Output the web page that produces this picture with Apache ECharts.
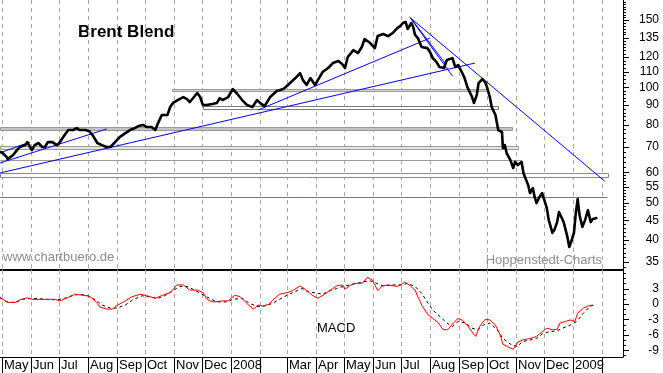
<!DOCTYPE html>
<html><head><meta charset="utf-8">
<script src="https://cdn.jsdelivr.net/npm/echarts@6/dist/echarts.min.js"></script>
<style>html,body{margin:0;padding:0;background:#fff}#c{width:663px;height:373px}</style>
</head><body><div id="c"></div>
<script>
// ---------- DATA ----------
const priceDates = ['2007-04-29','2007-05-02','2007-05-06','2007-05-07','2007-05-13','2007-05-17','2007-05-20','2007-05-26','2007-05-28','2007-05-31','2007-06-02','2007-06-05','2007-06-09','2007-06-13','2007-06-16','2007-06-19','2007-06-24','2007-06-29','2007-07-02','2007-07-07','2007-07-11','2007-07-16','2007-07-20','2007-07-23','2007-07-29','2007-08-02','2007-08-06','2007-08-11','2007-08-16','2007-08-21','2007-08-25','2007-08-30','2007-09-04','2007-09-10','2007-09-15','2007-09-20','2007-09-24','2007-09-29','2007-10-03','2007-10-08','2007-10-12','2007-10-15','2007-10-19','2007-10-25','2007-10-28','2007-10-31','2007-11-05','2007-11-11','2007-11-15','2007-11-18','2007-11-26','2007-11-29','2007-12-02','2007-12-06','2007-12-12','2007-12-17','2007-12-20','2007-12-23','2007-12-29','2008-01-03','2008-01-07','2008-01-13','2008-01-18','2008-01-24','2008-01-29','2008-02-01','2008-02-06','2008-02-12','2008-02-19','2008-02-26','2008-03-02','2008-03-10','2008-03-15','2008-03-18','2008-03-22','2008-03-26','2008-03-31','2008-04-03','2008-04-08','2008-04-14','2008-04-19','2008-04-25','2008-04-29','2008-05-02','2008-05-05','2008-05-11','2008-05-16','2008-05-20','2008-05-23','2008-05-29','2008-06-03','2008-06-06','2008-06-12','2008-06-17','2008-06-22','2008-06-27','2008-06-30','2008-07-03','2008-07-06','2008-07-08','2008-07-12','2008-07-14','2008-07-16','2008-07-19','2008-07-23','2008-07-29','2008-08-01','2008-08-04','2008-08-08','2008-08-11','2008-08-16','2008-08-19','2008-08-25','2008-08-28','2008-08-31','2008-09-04','2008-09-07','2008-09-10','2008-09-15','2008-09-17','2008-09-20','2008-09-22','2008-09-26','2008-09-29','2008-10-01','2008-10-04','2008-10-06','2008-10-10','2008-10-12','2008-10-13','2008-10-17','2008-10-18','2008-10-20','2008-10-22','2008-10-26','2008-10-29','2008-10-31','2008-11-03','2008-11-07','2008-11-09','2008-11-11','2008-11-14','2008-11-16','2008-11-19','2008-11-21','2008-11-23','2008-11-26','2008-11-29','2008-12-01','2008-12-04','2008-12-06','2008-12-10','2008-12-12','2008-12-15','2008-12-17','2008-12-20','2008-12-22','2008-12-26','2008-12-28','2008-12-31','2009-01-02','2009-01-04','2009-01-06','2009-01-08','2009-01-11','2009-01-14','2009-01-17','2009-01-20','2009-01-22','2009-01-26'];
const priceValues = [67.8,67.4,65.8,65.0,66.6,68.6,69.9,70.7,72.0,69.9,68.6,70.7,71.6,69.9,69.9,72.0,72.0,70.7,72.0,75.1,77.4,77.4,78.3,77.4,77.4,77.0,75.1,71.6,70.7,69.9,69.9,72.0,74.2,76.0,77.4,78.3,79.3,79.8,78.8,78.8,77.4,80.7,84.7,84.7,88.9,91.1,92.7,94.4,93.2,91.6,96.7,94.4,90.0,90.0,90.5,91.1,93.8,92.7,94.4,99.0,96.7,92.7,90.0,88.9,92.7,91.1,89.4,94.4,97.9,99.0,101.5,105.8,109.0,104.5,101.5,105.8,101.5,104.5,109.7,112.4,115.8,117.2,115.1,112.4,120.1,125.2,123.0,127.5,133.8,130.6,126.7,136.2,137.9,136.2,138.7,142.9,144.6,147.3,148.2,142.1,147.3,143.8,137.1,134.6,127.5,126.7,123.7,119.3,116.5,113.1,112.4,117.9,119.3,113.1,114.4,109.7,105.8,100.2,94.4,91.1,95.5,102.7,105.2,103.3,100.2,94.4,88.9,84.7,83.7,77.4,76.5,69.5,70.7,67.4,64.6,61.6,63.9,62.7,63.9,59.8,58.0,55.6,53.0,54.6,51.7,49.9,51.7,53.0,52.4,48.4,45.1,41.7,42.4,44.5,47.3,45.6,44.5,40.7,38.3,40.2,41.7,47.0,51.1,46.4,43.2,45.1,47.8,44.5,45.3,45.6];

const macdDates = ['2007-04-29','2007-05-02','2007-05-07','2007-05-15','2007-05-20','2007-05-28','2007-06-02','2007-06-14','2007-06-27','2007-07-02','2007-07-10','2007-07-18','2007-07-26','2007-07-31','2007-08-05','2007-08-11','2007-08-14','2007-08-21','2007-08-27','2007-09-02','2007-09-10','2007-09-17','2007-09-26','2007-10-03','2007-10-12','2007-10-20','2007-10-28','2007-11-04','2007-11-11','2007-11-18','2007-11-26','2007-12-02','2007-12-07','2007-12-13','2007-12-23','2007-12-29','2008-01-05','2008-01-11','2008-01-18','2008-01-25','2008-01-30','2008-02-04','2008-02-10','2008-02-15','2008-02-22','2008-03-01','2008-03-07','2008-03-15','2008-03-20','2008-03-28','2008-04-03','2008-04-10','2008-04-16','2008-04-23','2008-04-29','2008-05-02','2008-05-07','2008-05-11','2008-05-18','2008-05-21','2008-05-26','2008-05-31','2008-06-03','2008-06-06','2008-06-11','2008-06-17','2008-06-27','2008-07-02','2008-07-05','2008-07-11','2008-07-16','2008-07-19','2008-07-24','2008-07-30','2008-08-04','2008-08-10','2008-08-15','2008-08-20','2008-08-26','2008-08-31','2008-09-05','2008-09-11','2008-09-16','2008-09-19','2008-09-23','2008-09-29','2008-10-04','2008-10-10','2008-10-15','2008-10-18','2008-10-23','2008-10-29','2008-11-03','2008-11-08','2008-11-16','2008-11-23','2008-11-29','2008-12-04','2008-12-10','2008-12-15','2008-12-18','2008-12-24','2008-12-29','2009-01-03','2009-01-06','2009-01-12','2009-01-17','2009-01-22'];
const macdValues = [1.1,0.9,0.3,0.3,0.8,1.2,0.9,0.9,0.9,0.6,1.2,1.9,1.7,1.6,1.2,0.1,-0.6,-1.0,-1.0,-0.2,0.6,1.4,1.9,1.6,1.1,1.7,2.2,3.7,3.7,2.7,2.7,2.2,0.8,0.4,0.6,0.6,1.7,1.4,0.1,-1.0,-0.2,-0.4,-0.1,0.8,1.9,2.2,2.6,3.5,2.9,1.7,1.1,1.9,2.6,3.5,3.7,2.9,3.5,4.0,4.0,4.1,5.2,4.7,3.7,2.6,3.5,3.7,3.4,3.9,4.3,3.5,2.7,1.4,-0.5,-2.1,-2.8,-3.7,-5.0,-5.0,-3.7,-2.8,-3.2,-4.4,-5.7,-6.3,-4.4,-3.0,-3.1,-4.1,-6.0,-7.8,-8.3,-8.8,-7.4,-7.0,-6.7,-6.3,-5.4,-4.7,-5.0,-4.9,-3.7,-3.4,-3.1,-3.4,-1.8,-0.8,-0.4,-0.2];

const signalDates = ['2007-04-29','2007-05-04','2007-05-10','2007-05-17','2007-05-23','2007-06-02','2007-06-18','2007-06-29','2007-07-07','2007-07-15','2007-07-23','2007-08-01','2007-08-09','2007-08-16','2007-08-25','2007-09-01','2007-09-10','2007-09-18','2007-09-28','2007-10-09','2007-10-15','2007-10-22','2007-10-31','2007-11-07','2007-11-15','2007-11-21','2007-12-01','2007-12-07','2007-12-17','2007-12-28','2008-01-03','2008-01-13','2008-01-21','2008-01-29','2008-02-06','2008-02-14','2008-02-22','2008-03-01','2008-03-07','2008-03-17','2008-03-23','2008-04-02','2008-04-08','2008-04-16','2008-04-23','2008-04-30','2008-05-07','2008-05-15','2008-05-21','2008-05-29','2008-06-05','2008-06-12','2008-06-22','2008-07-02','2008-07-08','2008-07-16','2008-07-23','2008-07-29','2008-08-04','2008-08-12','2008-08-19','2008-08-25','2008-08-31','2008-09-08','2008-09-15','2008-09-21','2008-09-27','2008-10-04','2008-10-12','2008-10-18','2008-10-26','2008-11-02','2008-11-08','2008-11-16','2008-11-23','2008-11-30','2008-12-07','2008-12-15','2008-12-21','2008-12-29','2009-01-05','2009-01-12','2009-01-19','2009-01-23'];
const signalValues = [1.3,0.6,0.3,0.4,0.9,1.1,0.9,0.8,1.1,1.6,1.9,1.6,0.8,-0.2,-0.8,-0.8,-0.2,0.8,1.6,1.3,1.1,1.6,2.6,3.4,3.4,2.9,1.9,1.3,0.4,0.4,0.9,1.1,0.1,-0.5,-0.4,0.1,0.9,1.7,2.2,3.0,2.4,2.1,1.9,2.6,3.0,3.4,3.7,4.0,4.3,4.5,4.0,3.5,3.7,3.7,4.0,3.4,2.1,0.4,-1.2,-2.5,-3.7,-4.4,-3.4,-3.7,-4.7,-5.0,-4.1,-3.7,-5.0,-6.7,-7.8,-8.3,-7.3,-7.0,-6.7,-5.7,-5.4,-5.2,-4.7,-4.1,-3.4,-1.8,-0.5,-0.2];

const monthStarts = ['2007-05-01','2007-06-01','2007-07-01','2007-08-01','2007-09-01','2007-10-01','2007-11-01','2007-12-01','2008-01-01','2008-02-01','2008-03-01','2008-04-01','2008-05-01','2008-06-01','2008-07-01','2008-08-01','2008-09-01','2008-10-01','2008-11-01','2008-12-01','2009-01-01','2009-02-01'];
const monthLabels = ['May','Jun','Jul','Aug','Sep','Oct','Nov','Dec','2008','','Mar','Apr','May','Jun','Jul','Aug','Sep','Oct','Nov','Dec','2009',''];

const priceTickLabels = [150,135,120,110,100,90,80,70,60,55,50,45,40,35];
const macdTickLabels = [3,0,-3,-6,-9];

// horizontal support / resistance levels
const levelValues = [78.3, 69.5, 64.6, 59.0, 51.7, 98.4, 88.9];
const levelStarts = ['2007-04-28','2007-04-28','2007-04-28','2007-04-28','2007-04-28','2007-10-30','2007-12-02'];
const levelEnds   = ['2008-10-28','2008-11-03','2008-11-07','2009-02-07','2009-02-07','2008-10-02','2008-10-13'];

// trend lines: start [date, price], end [date, price]
const trendStarts = [['2007-05-01',67.8],['2007-04-29',63.5],['2007-04-29',59.8],['2008-01-30',87.3],['2008-07-10',152.7],['2008-07-11',151.8],['2008-07-13',150.0]];
const trendEnds   = [['2007-05-31',72.0],['2007-08-21',77.9],['2008-09-18',115.8],['2008-08-01',134.6],['2009-02-04',56.9],['2008-08-25',107.1],['2008-08-17',115.8]];

// ---------- CHART ----------
const T = s => { const [y,m,d] = s.split('-').map(Number); return new Date(y, m-1, d).getTime(); };
const X_MIN = new Date(2007,3,28,21).getTime();
const X_MAX = new Date(2009,1,23,12).getTime();
const P_MIN = 33.36, P_MAX = 169.2;
const M_MIN = -10.3, M_MAX = 6.6;
const FONT = '"Liberation Sans", Arial, sans-serif';

const levelStyle = [
  {h:3, fill:'#c4c4c4', stroke:'#999999'},
  {h:3, fill:'#e4e4e4', stroke:'#999999'},
  {h:0, stroke:'#999999'},
  {h:4, fill:'#ffffff', stroke:'#8a8a8a'},
  {h:0, stroke:'#7a7a7a'},
  {h:2, fill:'#d4d4d4', stroke:'#999999'},
  {h:3, fill:'#ffffff', stroke:'#7a7a7a'}
];

// right-axis tick sets (major = labelled)
const priceTicks = priceTickLabels.map(v => [v, 1]);
for (let v = 34; v < 60; v += 1) if (!priceTickLabels.includes(v)) priceTicks.push([v, 0]);
for (let v = 62; v < 100; v += 2) if (!priceTickLabels.includes(v)) priceTicks.push([v, 0]);
for (let v = 102.5; v < 168; v += 2.5) if (!priceTickLabels.includes(v)) priceTicks.push([v, 0]);
const macdTicks = macdTickLabels.map(v => [v, 1]);
for (let v = -10; v <= 6; v += 1) if (!macdTickLabels.includes(v)) macdTicks.push([v, 0]);

function txt(x, y, text, font, fill, align, valign) {
  return {type:'text', x, y, style:{text, font, fill, align, verticalAlign:valign, textAlign:align, textVerticalAlign:valign}};
}

function axisTickRender(params, api) {
  const p = api.coord([api.value(0), api.value(1)]);
  const major = api.value(2) === 1;
  const y = Math.round(p[1]) + 0.5;
  const x = Math.round(p[0]);
  const ch = [{type:'line', shape:{x1:x, y1:y, x2:x + (major ? 6 : 3), y2:y}, style:{stroke:'#000', lineWidth:1}}];
  if (major) ch.push(txt(659, p[1], String(api.value(1)), '12px ' + FONT, '#000', 'right', 'middle'));
  return {type:'group', children: ch};
}

function gridRender(yTop, yBot) {
  return function(params, api) {
    const t = api.value(0);
    const a = api.coord([t, yTop]);
    const b = api.coord([t, yBot]);
    const x = Math.round(a[0]) + 0.5;
    return {type:'group', children:[
      {type:'line', shape:{x1:x, y1:a[1], x2:x, y2:b[1]},
       style:{stroke:'#a8a8a8', lineWidth:1, lineDash:[4,4], fill:null}}
    ]};
  };
}

const chart = echarts.init(document.getElementById('c'), null, {renderer:'canvas'});
chart.setOption({
  animation: false,
  backgroundColor: '#fff',
  grid: [
    {left:0, top:0, width:623, height:270, outerBoundsMode:'none', containLabel:false},
    {left:0, top:270, width:623, height:87, outerBoundsMode:'none', containLabel:false}
  ],
  xAxis: [
    {type:'time', gridIndex:0, min:X_MIN, max:X_MAX,
     axisLine:{show:true, onZero:false, lineStyle:{color:'#000', width:2}},
     axisTick:{show:false}, axisLabel:{show:false}, splitLine:{show:false}},
    {type:'time', gridIndex:1, min:X_MIN, max:X_MAX,
     axisLine:{show:true, onZero:false, lineStyle:{color:'#000', width:1}},
     axisTick:{show:false}, axisLabel:{show:false}, splitLine:{show:false}}
  ],
  yAxis: [
    {type:'log', logBase:10, gridIndex:0, min:P_MIN, max:P_MAX, position:'right',
     axisLine:{show:true, lineStyle:{color:'#000', width:1}},
     axisTick:{show:false}, axisLabel:{show:false}, splitLine:{show:false}},
    {type:'value', gridIndex:1, min:M_MIN, max:M_MAX, position:'right',
     axisLine:{show:true, onZero:false, lineStyle:{color:'#000', width:1}},
     axisTick:{show:false}, axisLabel:{show:false}, splitLine:{show:false}}
  ],
  graphic: [
    txt(78, 32, 'Brent Blend', 'bold 17px ' + FONT, '#000', 'left', 'middle'),
    txt(3, 257, 'www.chartbuero.de', '13px ' + FONT, '#8c8c8c', 'left', 'middle'),
    txt(602, 260, 'Hoppenstedt-Charts', '13px ' + FONT, '#8c8c8c', 'right', 'middle'),
    txt(317, 328, 'MACD', '13px ' + FONT, '#000', 'left', 'middle')
  ],
  series: [
    // month grid lines, main panel
    {type:'custom', xAxisIndex:0, yAxisIndex:0, clip:false, silent:true, z:1,
     data: monthStarts.map(s => [T(s), P_MIN]), renderItem: gridRender(P_MAX, P_MIN)},
    // month grid lines, MACD panel
    {type:'custom', xAxisIndex:1, yAxisIndex:1, clip:false, silent:true, z:1,
     data: monthStarts.map(s => [T(s), M_MIN]), renderItem: gridRender(M_MAX, M_MIN)},
    // levels
    {type:'custom', xAxisIndex:0, yAxisIndex:0, clip:false, silent:true, z:2,
     data: levelValues.map((v,i) => [T(levelStarts[i]), v, T(levelEnds[i])]),
     renderItem: function(params, api) {
       const st = levelStyle[params.dataIndex];
       const a = api.coord([Math.max(api.value(0), X_MIN), api.value(1)]);
       const b = api.coord([api.value(2), api.value(1)]);
       if (!st.h) {
         const y = Math.round(a[1]) + 0.5;
         return {type:'line', shape:{x1:a[0], y1:y, x2:b[0], y2:y}, style:{stroke:st.stroke, lineWidth:1}};
       }
       const y = Math.round(a[1] - st.h/2) + 0.5;
       return {type:'rect', shape:{x:Math.round(a[0]) + 0.5, y, width:Math.round(b[0]-a[0]), height:st.h},
               style:{fill:st.fill, stroke:st.stroke, lineWidth:1}};
     }},
    // trend lines
    {type:'lines', coordinateSystem:'cartesian2d', xAxisIndex:0, yAxisIndex:0, polyline:false, silent:true, z:3,
     effect:{show:false}, symbol:'none',
     lineStyle:{color:'#0000ff', width:1, opacity:1, curveness:0},
     data: trendStarts.map((s,i) => ({coords:[[T(s[0]), s[1]], [T(trendEnds[i][0]), trendEnds[i][1]]]}))},
    // price
    {type:'line', xAxisIndex:0, yAxisIndex:0, z:5, symbol:'none', showSymbol:false, silent:true,
     lineStyle:{color:'#000', width:2.6, join:'round', cap:'round'},
     data: priceDates.map((d,i) => [T(d), priceValues[i]])},
    // signal (dashed)
    {type:'line', xAxisIndex:1, yAxisIndex:1, z:4, symbol:'none', showSymbol:false, silent:true,
     lineStyle:{color:'#000', width:1, type:[3,3]},
     data: signalDates.map((d,i) => [T(d), signalValues[i]])},
    // MACD
    {type:'line', xAxisIndex:1, yAxisIndex:1, z:5, symbol:'none', showSymbol:false, silent:true,
     lineStyle:{color:'#ff0000', width:1},
     data: macdDates.map((d,i) => [T(d), macdValues[i]])},
    // right axis ticks and labels (price)
    {type:'custom', xAxisIndex:0, yAxisIndex:0, clip:false, silent:true, z:6,
     data: priceTicks.map(t => [X_MAX, t[0], t[1]]), renderItem: axisTickRender},
    // right axis ticks and labels (MACD)
    {type:'custom', xAxisIndex:1, yAxisIndex:1, clip:false, silent:true, z:6,
     data: macdTicks.map(t => [X_MAX, t[0], t[1]]), renderItem: axisTickRender},
    // month separators and labels below the axis
    {type:'custom', xAxisIndex:1, yAxisIndex:1, clip:false, silent:true, z:6,
     data: monthStarts.map((s,i) => [T(s), M_MIN, i]),
     renderItem: function(params, api) {
       const p = api.coord([api.value(0), M_MIN]);
       const x = Math.round(p[0]) + 0.5;
       const ch = [{type:'line', shape:{x1:x, y1:p[1], x2:x, y2:p[1] + 17}, style:{stroke:'#000', lineWidth:1}}];
       const lab = monthLabels[params.dataIndex];
       if (lab) ch.push(txt(x + 1.5, p[1] + 8.5, lab, '13px ' + FONT, '#000', 'left', 'middle'));
       return {type:'group', children: ch};
     }}
  ]
});
</script>
</body></html>
